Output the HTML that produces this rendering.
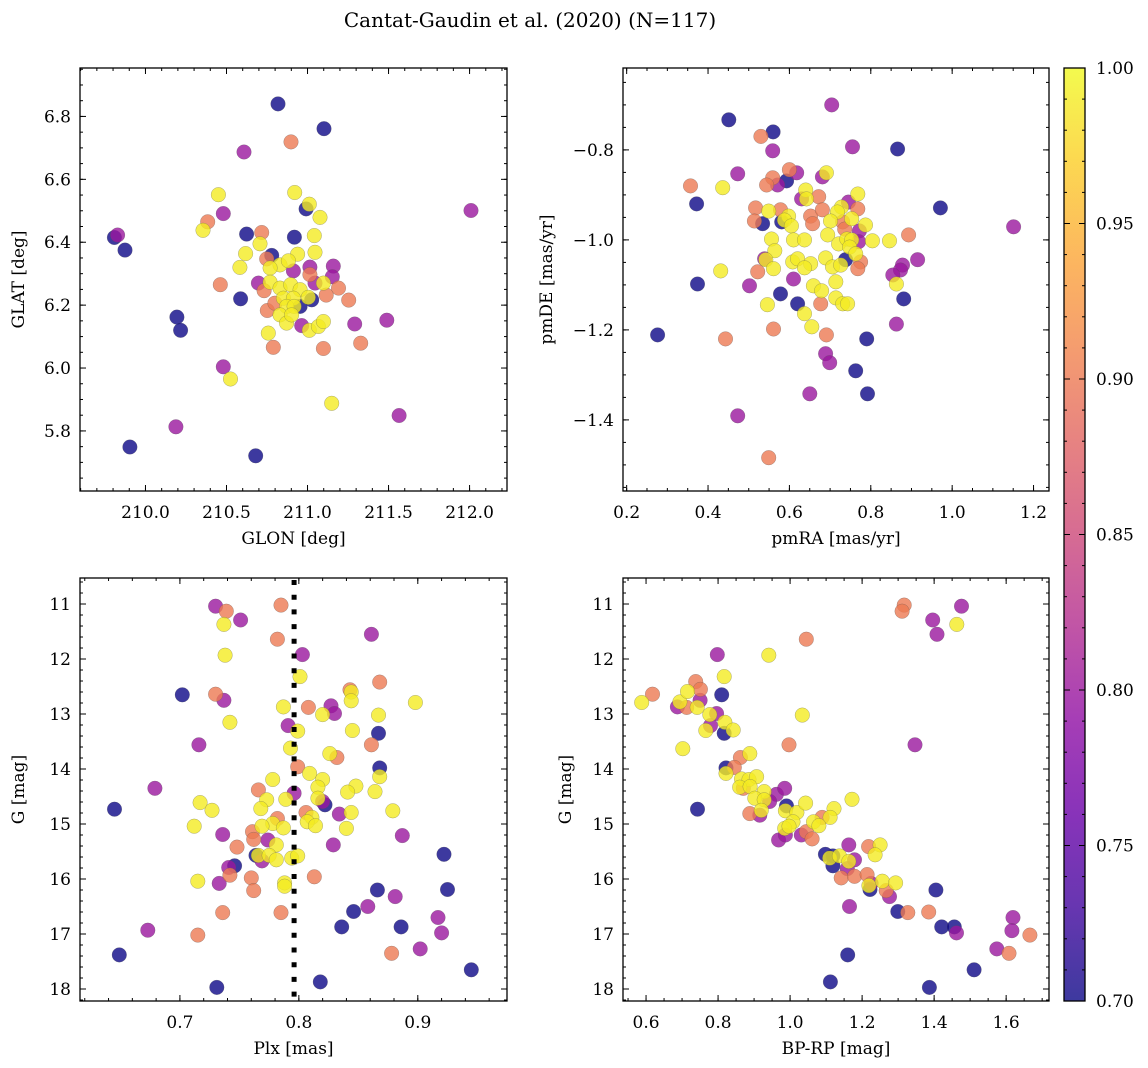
<!DOCTYPE html>
<html><head><meta charset="utf-8"><title>Cantat-Gaudin et al. (2020)</title>
<style>
html,body{margin:0;padding:0;background:#fff;}
svg{display:block;font-family:"DejaVu Serif","Liberation Serif",serif;}
</style></head>
<body>
<svg id="fig" width="1148" height="1068" viewBox="0 0 1148 1068" xmlns="http://www.w3.org/2000/svg">
<defs><linearGradient id="cbgrad" x1="0" y1="1" x2="0" y2="0"></linearGradient></defs>
<text x="530" y="27" font-size="20" text-anchor="middle">Cantat-Gaudin et al. (2020) (N=117)</text>
</svg>
<script>
// ---------- data (probability: 0.70 navy, 0.80 purple, 0.90 salmon, 0.99 yellow) ----------
const glon = [210.818,211.102,210.898,210.608,212.009,209.808,209.828,209.874,210.450,210.480,210.384,210.355,210.921,211.011,210.991,211.077,210.624,210.717,210.707,210.919,211.042,211.046,210.618,210.583,210.779,210.748,210.939,210.830,210.882,210.769,210.913,211.015,211.159,211.153,211.015,211.046,211.098,210.462,210.732,210.697,210.769,211.191,211.115,211.254,210.587,211.026,210.954,210.830,210.896,210.954,210.851,210.913,211.005,210.871,210.917,210.830,210.871,210.902,210.752,210.799,210.964,211.011,211.067,211.098,211.291,211.489,211.328,210.758,210.789,211.098,210.194,210.217,210.480,210.525,211.149,211.565,210.188,209.904,210.680];
const glat = [6.840,6.761,6.719,6.687,6.501,6.415,6.423,6.375,6.551,6.491,6.465,6.438,6.558,6.521,6.506,6.479,6.426,6.431,6.395,6.416,6.421,6.368,6.364,6.320,6.358,6.347,6.362,6.328,6.341,6.318,6.309,6.321,6.324,6.290,6.297,6.270,6.270,6.265,6.246,6.270,6.273,6.254,6.232,6.216,6.220,6.217,6.196,6.254,6.265,6.249,6.222,6.222,6.225,6.196,6.196,6.169,6.143,6.169,6.183,6.206,6.135,6.120,6.132,6.148,6.140,6.152,6.079,6.111,6.066,6.062,6.162,6.120,6.004,5.965,5.888,5.849,5.813,5.749,5.721];
const probPos = [0.70,0.70,0.90,0.80,0.80,0.70,0.80,0.70,0.99,0.80,0.90,0.99,0.99,0.99,0.70,0.99,0.70,0.90,0.99,0.70,0.99,0.99,0.99,0.99,0.70,0.90,0.99,0.99,0.99,0.99,0.80,0.80,0.80,0.80,0.90,0.80,0.99,0.90,0.90,0.80,0.99,0.90,0.90,0.90,0.70,0.70,0.70,0.99,0.99,0.99,0.99,0.99,0.99,0.99,0.99,0.99,0.99,0.99,0.90,0.90,0.80,0.99,0.99,0.99,0.80,0.80,0.90,0.99,0.90,0.90,0.70,0.70,0.80,0.99,0.99,0.80,0.80,0.70,0.70];

const pmra = [0.559,0.755,0.866,0.704,0.451,0.560,0.530,0.473,0.357,0.436,0.372,0.600,0.618,0.559,0.593,0.544,0.571,0.691,0.681,0.640,0.630,0.642,0.672,0.768,0.745,0.728,0.718,0.768,0.517,0.549,0.578,0.598,0.514,0.534,0.581,0.588,0.605,0.652,0.657,0.681,0.701,0.731,0.753,0.787,0.736,0.772,0.694,0.556,0.564,0.610,0.637,0.721,0.741,0.753,0.770,0.804,0.846,0.893,0.915,0.748,0.763,0.539,0.542,0.608,0.620,0.652,0.637,0.689,0.706,0.726,0.738,0.775,0.768,0.431,0.522,0.561,0.878,0.873,0.854,0.863,0.374,0.502,0.610,0.659,0.679,0.714,0.578,0.620,0.677,0.546,0.714,0.731,0.743,0.881,0.637,0.655,0.561,0.691,0.863,0.276,0.443,0.790,0.971,1.151,0.473,0.549,0.650,0.763,0.792,0.689,0.699];
const pmde = [-0.802,-0.793,-0.798,-0.700,-0.733,-0.760,-0.770,-0.853,-0.880,-0.884,-0.920,-0.844,-0.851,-0.862,-0.869,-0.878,-0.878,-0.851,-0.860,-0.889,-0.909,-0.909,-0.904,-0.898,-0.916,-0.927,-0.938,-0.931,-0.929,-0.936,-0.933,-0.947,-0.958,-0.964,-0.960,-0.956,-0.969,-0.947,-0.964,-0.933,-0.958,-0.960,-0.953,-0.967,-0.976,-0.980,-0.989,-0.998,-1.024,-1.000,-1.000,-1.009,-0.998,-1.000,-1.004,-1.002,-1.002,-0.989,-1.044,-1.016,-1.031,-1.042,-1.044,-1.049,-1.042,-1.053,-1.062,-1.040,-1.060,-1.056,-1.044,-1.049,-1.064,-1.069,-1.071,-1.064,-1.056,-1.067,-1.078,-1.098,-1.098,-1.102,-1.087,-1.102,-1.113,-1.093,-1.120,-1.142,-1.142,-1.144,-1.129,-1.142,-1.142,-1.131,-1.164,-1.193,-1.198,-1.211,-1.187,-1.211,-1.220,-1.220,-0.929,-0.971,-1.391,-1.484,-1.342,-1.291,-1.342,-1.253,-1.273];
const probPm = [0.80,0.80,0.70,0.80,0.70,0.70,0.90,0.80,0.90,0.99,0.70,0.90,0.80,0.90,0.70,0.90,0.80,0.99,0.80,0.99,0.80,0.99,0.90,0.99,0.80,0.99,0.99,0.90,0.90,0.99,0.90,0.99,0.90,0.70,0.70,0.99,0.99,0.90,0.90,0.90,0.99,0.90,0.99,0.99,0.90,0.80,0.99,0.99,0.99,0.99,0.99,0.99,0.99,0.99,0.80,0.99,0.99,0.90,0.80,0.99,0.99,0.80,0.99,0.99,0.99,0.99,0.99,0.99,0.99,0.99,0.70,0.90,0.90,0.99,0.90,0.99,0.80,0.80,0.80,0.99,0.70,0.80,0.80,0.99,0.99,0.99,0.70,0.70,0.90,0.99,0.99,0.99,0.99,0.70,0.99,0.99,0.90,0.90,0.80,0.70,0.90,0.70,0.70,0.80,0.80,0.90,0.80,0.70,0.70,0.80,0.80];

const plx = [0.730,0.739,0.751,0.737,0.785,0.782,0.803,0.738,0.801,0.861,0.702,0.730,0.737,0.868,0.843,0.844,0.844,0.898,0.787,0.808,0.827,0.830,0.820,0.867,0.742,0.791,0.799,0.867,0.845,0.716,0.793,0.826,0.832,0.861,0.799,0.868,0.809,0.868,0.778,0.820,0.679,0.816,0.848,0.841,0.864,0.766,0.796,0.773,0.789,0.816,0.822,0.820,0.768,0.645,0.717,0.727,0.834,0.844,0.879,0.806,0.811,0.807,0.814,0.840,0.782,0.778,0.769,0.787,0.712,0.736,0.761,0.762,0.774,0.781,0.748,0.887,0.829,0.922,0.764,0.769,0.766,0.775,0.781,0.794,0.799,0.746,0.741,0.742,0.760,0.813,0.715,0.733,0.788,0.788,0.762,0.866,0.925,0.881,0.858,0.846,0.736,0.785,0.917,0.836,0.886,0.920,0.673,0.715,0.902,0.878,0.649,0.945,0.818,0.731];
const gmagA = [11.04,11.13,11.29,11.37,11.02,11.64,11.92,11.93,12.32,11.55,12.65,12.64,12.75,12.42,12.56,12.60,12.76,12.79,12.87,12.88,12.85,12.99,13.01,13.02,13.15,13.21,13.31,13.35,13.30,13.56,13.62,13.72,13.79,13.56,13.96,13.98,14.08,14.14,14.19,14.19,14.35,14.33,14.31,14.42,14.41,14.38,14.44,14.56,14.55,14.53,14.65,14.59,14.72,14.73,14.61,14.75,14.82,14.79,14.76,14.79,14.88,14.96,15.03,15.08,14.90,14.99,15.04,15.07,15.04,15.19,15.14,15.28,15.29,15.38,15.42,15.21,15.38,15.55,15.57,15.67,15.57,15.57,15.65,15.62,15.58,15.76,15.79,15.93,15.98,15.96,16.04,16.08,16.07,16.13,16.21,16.20,16.19,16.32,16.50,16.59,16.61,16.61,16.70,16.87,16.87,16.98,16.93,17.02,17.27,17.35,17.38,17.65,17.87,17.97];
const probPlx = [0.80,0.90,0.80,0.99,0.90,0.90,0.80,0.99,0.99,0.80,0.70,0.90,0.80,0.90,0.90,0.99,0.99,0.99,0.99,0.90,0.80,0.80,0.99,0.99,0.99,0.80,0.99,0.70,0.99,0.80,0.99,0.99,0.90,0.90,0.90,0.70,0.99,0.99,0.99,0.99,0.80,0.99,0.99,0.99,0.99,0.90,0.80,0.99,0.99,0.99,0.70,0.80,0.99,0.70,0.99,0.99,0.80,0.99,0.99,0.90,0.99,0.99,0.99,0.99,0.90,0.99,0.99,0.99,0.99,0.80,0.90,0.90,0.80,0.99,0.90,0.80,0.80,0.70,0.70,0.80,0.99,0.99,0.99,0.99,0.99,0.70,0.80,0.90,0.90,0.90,0.99,0.80,0.99,0.99,0.90,0.70,0.70,0.80,0.80,0.70,0.90,0.90,0.80,0.70,0.70,0.80,0.80,0.90,0.80,0.90,0.70,0.70,0.70,0.70];
const plxMedian = 0.796;

const bprp = [0.588,0.618,0.687,0.694,0.713,0.715,0.738,0.751,0.750,0.742,0.798,0.817,0.810,0.796,0.777,0.779,0.766,0.817,0.819,0.842,0.702,0.743,0.941,1.045,1.034,0.997,1.347,1.317,1.311,1.396,1.476,1.463,1.408,0.862,0.888,0.845,0.822,0.822,0.865,0.886,0.907,0.870,0.860,0.889,0.928,0.962,0.985,0.943,0.902,0.928,0.990,0.888,0.916,0.920,0.987,1.019,1.043,1.122,1.172,1.089,1.111,1.008,0.985,0.997,1.065,1.080,0.968,0.987,1.031,1.045,1.061,1.098,1.119,1.119,1.110,1.137,1.163,1.159,1.179,1.163,1.142,1.179,1.218,1.250,1.236,1.214,1.222,1.225,1.219,1.256,1.293,1.267,1.276,1.165,1.299,1.327,1.385,1.405,1.421,1.456,1.462,1.619,1.616,1.666,1.574,1.608,1.160,1.511,1.112,1.387];
const gmagB = [12.79,12.64,12.87,12.78,12.88,12.59,12.41,12.55,12.75,12.88,11.92,12.32,12.65,12.99,13.01,13.21,13.30,13.35,13.15,13.29,13.63,14.73,11.93,11.64,13.02,13.56,13.56,11.02,11.13,11.29,11.04,11.37,11.55,13.79,13.72,13.97,13.98,14.08,14.18,14.19,14.14,14.35,14.33,14.32,14.41,14.46,14.35,14.59,14.53,14.56,14.67,14.81,14.84,14.75,14.76,14.79,14.62,14.72,14.55,14.88,14.88,14.96,15.08,15.04,14.96,15.03,15.29,15.20,15.20,15.14,15.27,15.55,15.58,15.76,15.62,15.58,15.38,15.81,15.65,15.68,15.98,15.95,15.41,15.38,15.56,15.92,16.19,16.08,16.12,16.04,16.07,16.21,16.32,16.50,16.59,16.61,16.60,16.20,16.87,16.87,16.98,16.70,16.94,17.02,17.27,17.35,17.38,17.65,17.87,17.97];
const probCmd = [0.99,0.90,0.80,0.99,0.90,0.99,0.90,0.90,0.80,0.99,0.80,0.99,0.70,0.80,0.99,0.80,0.99,0.70,0.99,0.99,0.99,0.70,0.99,0.90,0.99,0.90,0.80,0.90,0.90,0.80,0.80,0.99,0.80,0.90,0.99,0.90,0.70,0.99,0.99,0.99,0.99,0.90,0.99,0.99,0.99,0.80,0.80,0.80,0.99,0.99,0.70,0.90,0.80,0.99,0.99,0.99,0.99,0.99,0.99,0.90,0.99,0.99,0.99,0.99,0.99,0.99,0.80,0.80,0.80,0.90,0.90,0.70,0.70,0.70,0.99,0.99,0.80,0.80,0.80,0.99,0.90,0.90,0.90,0.99,0.99,0.90,0.70,0.80,0.99,0.99,0.99,0.90,0.80,0.80,0.70,0.90,0.90,0.70,0.70,0.70,0.80,0.80,0.80,0.90,0.80,0.90,0.70,0.70,0.70,0.70];

const cbTicks = [0.70,0.75,0.80,0.85,0.90,0.95,1.00];
const cbMin = 0.70, cbMax = 1.00;

// ---------- rendering ----------
const NS = "http://www.w3.org/2000/svg";
const svg = document.getElementById('fig');
const FS = 17;
function mk(tag, attrs, parent){ const e=document.createElementNS(NS,tag); for(const k in attrs) e.setAttribute(k,attrs[k]); (parent||svg).appendChild(e); return e; }
const plasmaStops = ["#0d0887","#41049d","#6a00a8","#8f0da4","#b12a90","#cc4778","#e16462","#f2844b","#fca636","#fcce25","#f0f921"];
function hex(h){return [parseInt(h.slice(1,3),16),parseInt(h.slice(3,5),16),parseInt(h.slice(5,7),16)];}
function plasma(t){ t=Math.max(0,Math.min(1,t)); const f=t*10, i=Math.min(9,Math.floor(f)), r=f-i; const a=hex(plasmaStops[i]), b=hex(plasmaStops[i+1]); return "rgb("+a.map((v,k)=>Math.round(v+(b[k]-v)*r)).join(",")+")"; }
function fmt(v,d){ const s=Math.abs(v).toFixed(d); return (v<-1e-9?"\u2212":"")+s; }

function panel(cfg){
  const {name,L,T,R,B,xmin,xmax,ymin,ymax,invertY,xMaj,xMin,yMaj,yMin,xDec,yDec,xs,ys,ps} = cfg;
  const g = mk('g',{});
  
  
  const sx = v => L + (v-xmin)/(xmax-xmin)*(R-L);
  const sy = v => invertY ? T + (v-ymin)/(ymax-ymin)*(B-T) : B - (v-ymin)/(ymax-ymin)*(B-T);
  const idx = xs.map((_,i)=>i).sort((a,b)=>ps[a]-ps[b]);
  const pg = mk('g',{}, g);
  
  
  idx.forEach(i=>{
    const c = mk('circle',{cx:sx(xs[i]).toFixed(1),cy:sy(ys[i]).toFixed(1),r:7.3,fill:plasma((ps[i]-cbMin)/(cbMax-cbMin)),'fill-opacity':0.8,stroke:'#555','stroke-width':0.4,'stroke-opacity':0.6}, pg);
    
    
  });
  if (cfg.vline!==undefined){
    const vl = mk('line',{x1:sx(cfg.vline),x2:sx(cfg.vline),y1:T+2,y2:B,stroke:'#000','stroke-width':5,'stroke-dasharray':'5 9.7'}, g);
    
    
  }
  const tg = mk('g',{stroke:'#000','stroke-width':1}, g);
  
  
  const eps=1e-6;
  function ticksX(step,len){ for(let v=Math.ceil(xmin/step-eps)*step; v<=xmax+eps; v+=step){ const x=sx(v); mk('line',{x1:x,x2:x,y1:B,y2:B-len},tg); mk('line',{x1:x,x2:x,y1:T,y2:T+len},tg);} }
  function ticksY(step,len){ for(let v=Math.ceil(ymin/step-eps)*step; v<=ymax+eps; v+=step){ const y=sy(v); mk('line',{x1:L,x2:L+len,y1:y,y2:y},tg); mk('line',{x1:R,x2:R-len,y1:y,y2:y},tg);} }
  ticksX(xMin,3); ticksX(xMaj,6); ticksY(yMin,3); ticksY(yMaj,6);
  const fr = mk('rect',{x:L,y:T,width:R-L,height:B-T,fill:'none',stroke:'#000','stroke-width':1.3}, g);
  
  
  for(let v=Math.ceil(xmin/xMaj-eps)*xMaj; v<=xmax+eps; v+=xMaj){
    const t = mk('text',{x:sx(v),y:B+27,'font-size':FS,'text-anchor':'middle'}, g); t.textContent = fmt(v,xDec);
    
    
  }
  for(let v=Math.ceil(ymin/yMaj-eps)*yMaj; v<=ymax+eps; v+=yMaj){
    const t = mk('text',{x:L-9,y:sy(v)+6,'font-size':FS,'text-anchor':'end'}, g); t.textContent = fmt(v,yDec);
    
    
  }
  const xl = mk('text',{x:(L+R)/2,y:B+53,'font-size':FS,'text-anchor':'middle'}, g); xl.textContent = cfg.xlabel;
  
  
  const yl = mk('text',{x:cfg.ylx,y:(T+B)/2,'font-size':FS,'text-anchor':'middle',transform:`rotate(-90 ${cfg.ylx} ${(T+B)/2})`}, g); yl.textContent = cfg.ylabel;
  
  
}

panel({name:'position-panel',L:80,T:68,R:507,B:491,xmin:209.596,xmax:212.231,ymin:5.609,ymax:6.954,invertY:false,
  xMaj:0.5,xMin:0.1,yMaj:0.2,yMin:0.05,xDec:1,yDec:1,xs:glon,ys:glat,ps:probPos,xlabel:'GLON [deg]',ylabel:'GLAT [deg]',ylx:24});
panel({name:'proper-motion-panel',L:623,T:68,R:1049,B:491,xmin:0.191,xmax:1.238,ymin:-1.558,ymax:-0.618,invertY:false,
  xMaj:0.2,xMin:0.05,yMaj:0.2,yMin:0.05,xDec:1,yDec:1,xs:pmra,ys:pmde,ps:probPm,xlabel:'pmRA [mas/yr]',ylabel:'pmDE [mas/yr]',ylx:552});
panel({name:'parallax-panel',L:80,T:578,R:507,B:1001,xmin:0.616,xmax:0.975,ymin:10.527,ymax:18.218,invertY:true,
  xMaj:0.1,xMin:0.02,yMaj:1,yMin:0.2,xDec:1,yDec:0,xs:plx,ys:gmagA,ps:probPlx,xlabel:'Plx [mas]',ylabel:'G [mag]',ylx:24,vline:plxMedian});
panel({name:'cmd-panel',L:623,T:578,R:1049,B:1001,xmin:0.536,xmax:1.719,ymin:10.527,ymax:18.218,invertY:true,
  xMaj:0.2,xMin:0.05,yMaj:1,yMin:0.2,xDec:1,yDec:0,xs:bprp,ys:gmagB,ps:probCmd,xlabel:'BP-RP [mag]',ylabel:'G [mag]',ylx:571});

const grad = document.getElementById('cbgrad');
for(let k=0;k<=10;k++){ mk('stop',{offset:k/10,'stop-color':plasmaStops[k],'stop-opacity':0.8},grad); }
const cb = mk('g',{});


const CL=1064, CR=1085, CT=68, CB=1001;
mk('rect',{x:CL,y:CT,width:CR-CL,height:CB-CT,fill:'url(#cbgrad)'},cb);
const cy = v => CB - (v-cbMin)/(cbMax-cbMin)*(CB-CT);
for(let k=1;k<30;k++){ const v=cbMin+k*0.01; mk('line',{x1:CR,x2:CR-3,y1:cy(v),y2:cy(v),stroke:'#000','stroke-width':1},cb); mk('line',{x1:CL,x2:CL+3,y1:cy(v),y2:cy(v),stroke:'#000','stroke-width':1},cb); }
cbTicks.forEach(v=>{
  mk('line',{x1:CR,x2:CR-6,y1:cy(v),y2:cy(v),stroke:'#000','stroke-width':1},cb);
  mk('line',{x1:CL,x2:CL+6,y1:cy(v),y2:cy(v),stroke:'#000','stroke-width':1},cb);
  const t = mk('text',{x:CR+11,y:cy(v)+6,'font-size':FS},cb); t.textContent = v.toFixed(2);
  
  
});
mk('rect',{x:CL,y:CT,width:CR-CL,height:CB-CT,fill:'none',stroke:'#000','stroke-width':1.3},cb);
</script>
</body></html>
